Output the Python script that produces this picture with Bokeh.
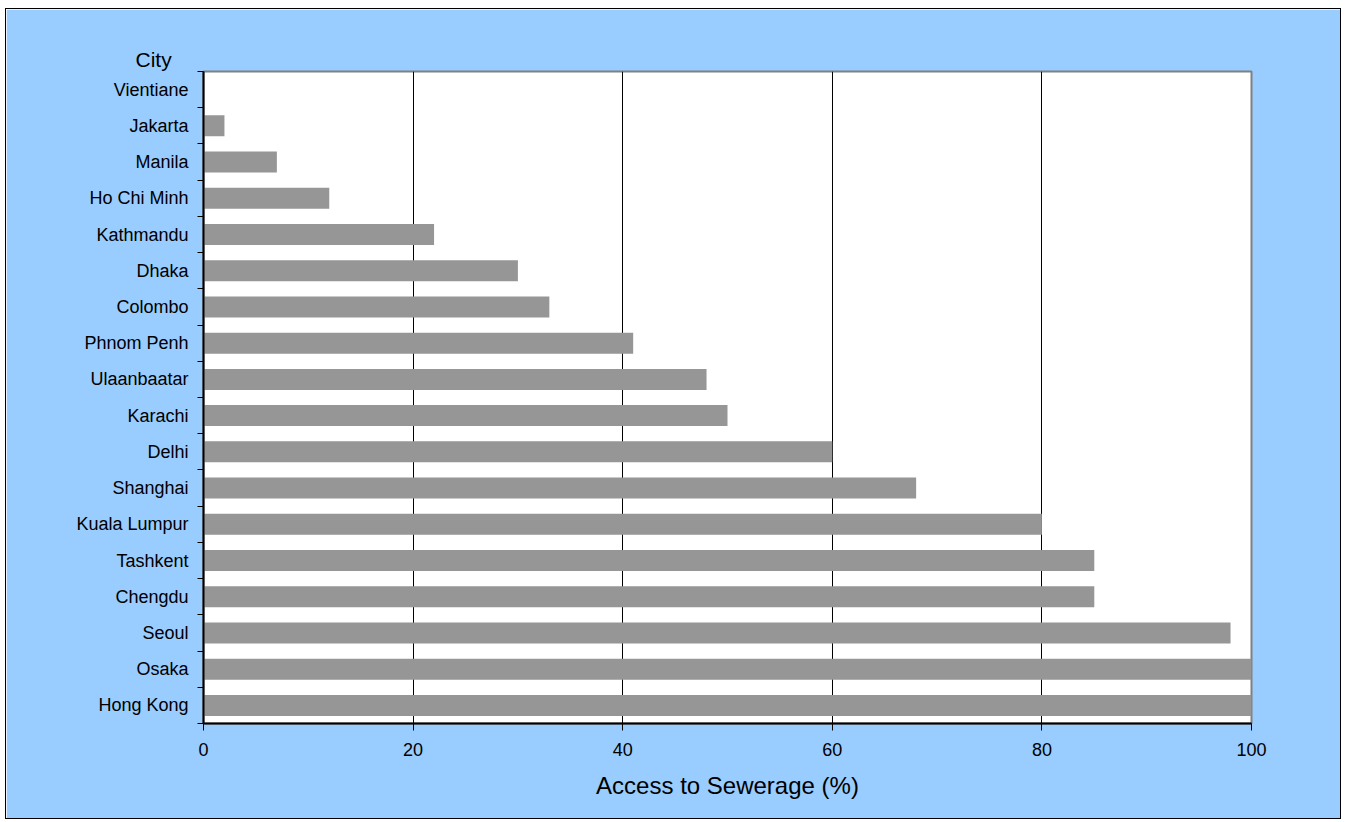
from bokeh.plotting import figure
from bokeh.models import FixedTicker, Range1d, Title, ColumnDataSource
from bokeh.embed import file_html
from bokeh.resources import INLINE

cities = ["Vientiane", "Jakarta", "Manila", "Ho Chi Minh", "Kathmandu", "Dhaka",
          "Colombo", "Phnom Penh", "Ulaanbaatar", "Karachi", "Delhi", "Shanghai",
          "Kuala Lumpur", "Tashkent", "Chengdu", "Seoul", "Osaka", "Hong Kong"]
access = [0, 2, 7, 12, 22, 30, 33, 41, 48, 50, 60, 68, 80, 85, 85, 98, 100, 100]
x_ticks = [0, 20, 40, 60, 80, 100]

n = len(cities)
ypos = [n - 1 - i + 0.5 for i in range(n)]
src = ColumnDataSource(dict(y=ypos, v=access, c=cities))

FONT = "Liberation Sans"

p = figure(width=1336, height=811, output_backend="svg", toolbar_location=None,
           x_range=Range1d(0, 100), y_range=Range1d(0, n),
           min_border_left=197, min_border_right=91, min_border_top=62, min_border_bottom=97,
           background_fill_color="white", border_fill_color="#99CCFF",
           styles={"border": "1px solid black", "margin-left": "5px", "margin-top": "8px"})

p.hbar(y="y", right="v", left=0, height=0.58, source=src, fill_color="#969696", line_color=None)

p.outline_line_color = "#808080"
p.outline_line_width = 2

p.ygrid.visible = False
p.xgrid.ticker = FixedTicker(ticks=[20, 40, 60, 80])
p.xgrid.grid_line_color = "black"
p.xgrid.grid_line_width = 1

xa = p.xaxis[0]
xa.ticker = FixedTicker(ticks=x_ticks)
xa.axis_line_color = "black"
xa.axis_line_width = 2
xa.major_tick_out = 7
xa.major_tick_in = 0
xa.minor_tick_out = 0
xa.major_label_text_font = FONT
xa.major_label_text_font_size = "18px"
xa.major_label_text_color = "black"
xa.major_label_standoff = 12
xa.axis_label = "Access to Sewerage (%)"
xa.axis_label_text_font = FONT
xa.axis_label_text_font_size = "24px"
xa.axis_label_text_font_style = "normal"
xa.axis_label_text_color = "black"
xa.axis_label_standoff = 13

ya = p.yaxis[0]
ya.ticker = FixedTicker(ticks=ypos, minor_ticks=list(range(n + 1)))
ya.major_label_overrides = {y: c for y, c in zip(ypos, cities)}
ya.axis_line_color = "black"
ya.axis_line_width = 2
ya.major_tick_out = 0
ya.major_tick_in = 0
ya.minor_tick_out = 6
ya.minor_tick_in = 0
ya.minor_tick_line_color = "black"
ya.major_label_text_font = FONT
ya.major_label_text_font_size = "18px"
ya.major_label_text_color = "black"
ya.major_label_standoff = 9

city_title = Title(text="City", align="left", offset=-68, standoff=1,
                   text_font=FONT, text_font_size="21px", text_font_style="normal",
                   text_color="black")
p.add_layout(city_title, "above")

open("out.html", "w").write(file_html(p, INLINE))
